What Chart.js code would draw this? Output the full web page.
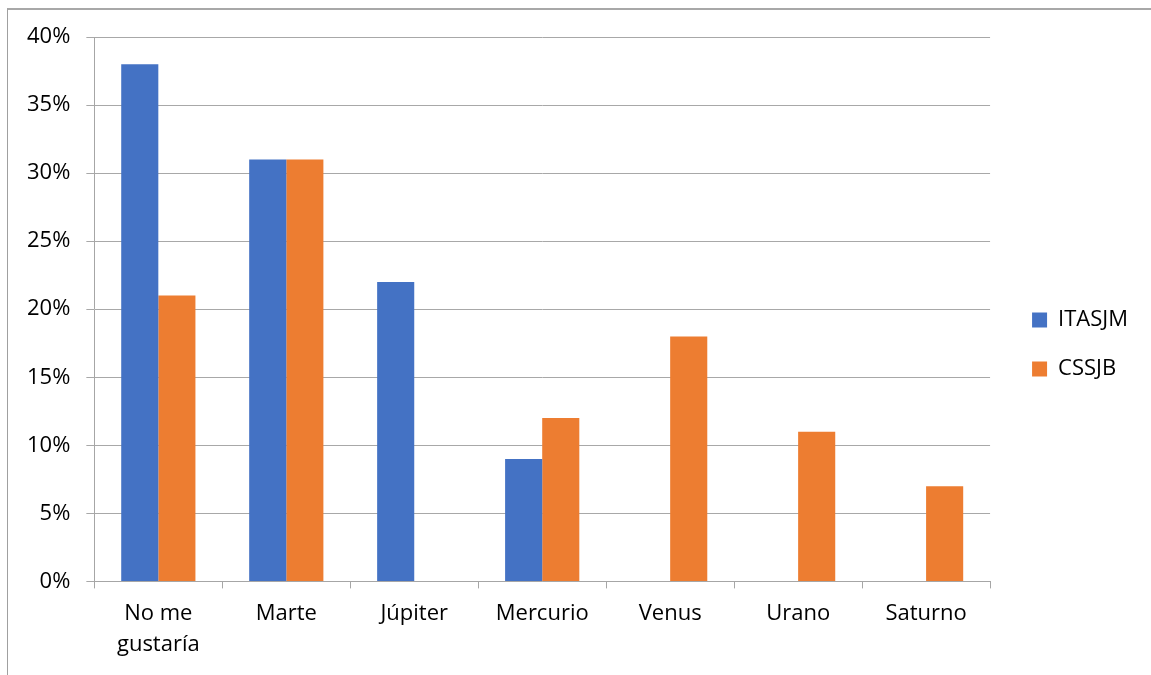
<!DOCTYPE html>
<html>
<head>
<meta charset="utf-8">
<script src="https://cdn.jsdelivr.net/npm/chart.js@4.4.0/dist/chart.umd.min.js"></script>
<style>
  html, body { margin: 0; padding: 0; background: #fff; }
  #wrap { position: relative; width: 1151px; height: 675px; overflow: hidden; }
  #frame { position: absolute; left: 7px; top: 8px; width: 1200px; height: 700px;
           border-left: 1px solid #a0a0a0; border-top: 2px solid #a8a8a8; }
  canvas { position: absolute; left: 0; top: 0; }
</style>
</head>
<body>
<div id="wrap">
  <div id="frame"></div>
  <canvas id="c" width="1151" height="675"></canvas>
</div>
<script>
const categories = [["No me", "gustaría"], "Marte", "Júpiter", "Mercurio", "Venus", "Urano", "Saturno"];
const seriesNames = ["ITASJM", "CSSJB"];
const itasjm = [38, 31, 22, 9, 0, 0, 0];
const cssjb  = [21, 31, 0, 12, 18, 11, 7];
const yTicksMax = 40;
const yStep = 5;

const FONT = "'Open Sans', 'Noto Sans', sans-serif";

const legendShift = {
  id: 'legendShift',
  afterLayout(chart) {
    const lg = chart.legend;
    if (!lg) return;
    lg.left += 15; lg.right += 15;
    lg.top -= 9; lg.bottom -= 9;
  }
};

new Chart(document.getElementById('c'), {
  type: 'bar',
  data: {
    labels: categories,
    datasets: [
      { label: seriesNames[0], data: itasjm, backgroundColor: '#4472C4', borderWidth: 0 },
      { label: seriesNames[1], data: cssjb, backgroundColor: '#ED7D31', borderWidth: 0 }
    ]
  },
  plugins: [legendShift],
  options: {
    responsive: false,
    animation: false,
    devicePixelRatio: 1,
    layout: { padding: { left: 11, right: 28, top: 37, bottom: 5 } },
    datasets: { bar: { barPercentage: 1.0, categoryPercentage: 0.58 } },
    plugins: {
      legend: {
        position: 'right',
        align: 'center',
        labels: {
          font: { family: FONT, size: 22 },
          color: '#000',
          boxWidth: 15,
          boxHeight: 15,
          padding: 27
        }
      },
      tooltip: { enabled: false }
    },
    scales: {
      x: {
        grid: { drawOnChartArea: false, drawTicks: true, tickLength: 7, color: '#a6a6a6', offset: true },
        border: { color: '#a6a6a6', width: 1 },
        ticks: { font: { family: FONT, size: 22, lineHeight: 1.4 }, color: '#000', padding: 10, maxRotation: 0, autoSkip: false }
      },
      y: {
        min: 0, max: yTicksMax,
        grid: { color: '#a8a8a8', tickLength: 8, drawTicks: true },
        border: { color: '#a6a6a6', width: 1 },
        ticks: { stepSize: yStep, font: { family: FONT, size: 22 }, color: '#000', padding: 16,
                 callback: v => v + '%' }
      }
    }
  }
});
</script>
</body>
</html>
